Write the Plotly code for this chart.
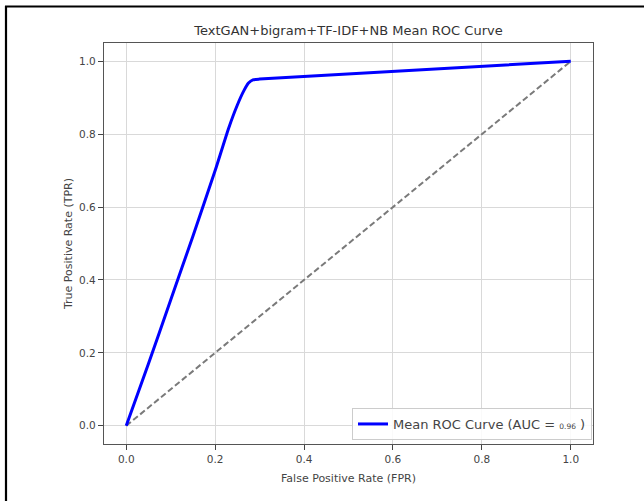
import plotly.graph_objects as go

# Mean ROC curve values
fpr = [0.0, 0.05, 0.10, 0.15, 0.20, 0.23, 0.25, 0.265, 0.275, 0.285, 0.30, 1.0]
tpr = [0.0, 0.17, 0.345, 0.52, 0.70, 0.815, 0.88, 0.92, 0.94, 0.949, 0.951, 1.0]
chance_x = [0.0, 1.0]
chance_y = [0.0, 1.0]
ticks = [0.0, 0.2, 0.4, 0.6, 0.8, 1.0]
tick_labels = ["0.0", "0.2", "0.4", "0.6", "0.8", "1.0"]
auc_text = "0.96"

W, H = 644, 501
L, R, T, B = 104, 593, 43, 444
pw, ph = R - L, B - T

def px(x):
    return (x - L) / pw

def py(y):
    return (B - y) / ph

font = "DejaVu Sans"

fig = go.Figure()
fig.add_trace(go.Scatter(
    x=chance_x, y=chance_y, mode="lines",
    line=dict(color="#7a7a7a", width=2, dash="6px,3px"),
    showlegend=False, hoverinfo="skip"))
fig.add_trace(go.Scatter(
    x=fpr, y=tpr, mode="lines",
    line=dict(color="#0000ff", width=3, shape="spline", smoothing=0.4),
    name="Mean ROC Curve (AUC = <span style='font-size:7.5px'>" + auc_text + "</span> )"))

axis_common = dict(
    tickvals=ticks, ticktext=tick_labels, ticks="outside", ticklen=5,
    tickcolor="#444", tickwidth=1,
    showgrid=True, gridcolor="#d9d9d9", gridwidth=1.3,
    zeroline=False, showline=True, linecolor="#555", linewidth=1.2, mirror=True,
    tickfont=dict(family=font, size=10.5, color="#444"),
)

fig.update_layout(
    width=W, height=H,
    margin=dict(l=L, r=W - R, t=T, b=H - B),
    paper_bgcolor="white", plot_bgcolor="white",
    title=dict(text="TextGAN+bigram+TF-IDF+NB Mean ROC Curve",
               xref="paper", x=0.5, xanchor="center",
               yref="container", y=1 - 30 / H, yanchor="middle",
               font=dict(family=font, size=13, color="#333")),
    xaxis=dict(range=[-0.05, 1.05],
               title=dict(text="False Positive Rate (FPR)", standoff=10,
                          font=dict(family=font, size=11, color="#444")),
               **axis_common),
    yaxis=dict(range=[-0.05, 1.05],
               title=dict(text="True Positive Rate (TPR)", standoff=4,
                          font=dict(family=font, size=11, color="#444")),
               **axis_common),
    legend=dict(x=px(592), xanchor="right", y=py(440), yanchor="bottom",
                bgcolor="rgba(255,255,255,0.85)", bordercolor="#cccccc", borderwidth=1,
                font=dict(family=font, size=13, color="#444"),
                itemwidth=30),
    showlegend=True,
)

# outer black frame (top and left edges of the picture)
fig.add_shape(type="line", xref="paper", yref="paper",
              x0=px(5), x1=px(660), y0=py(6.5), y1=py(6.5),
              line=dict(color="black", width=2.2))
fig.add_shape(type="line", xref="paper", yref="paper",
              x0=px(6), x1=px(6), y0=py(6), y1=py(520),
              line=dict(color="black", width=2.2))

fig.write_html("out.html")
